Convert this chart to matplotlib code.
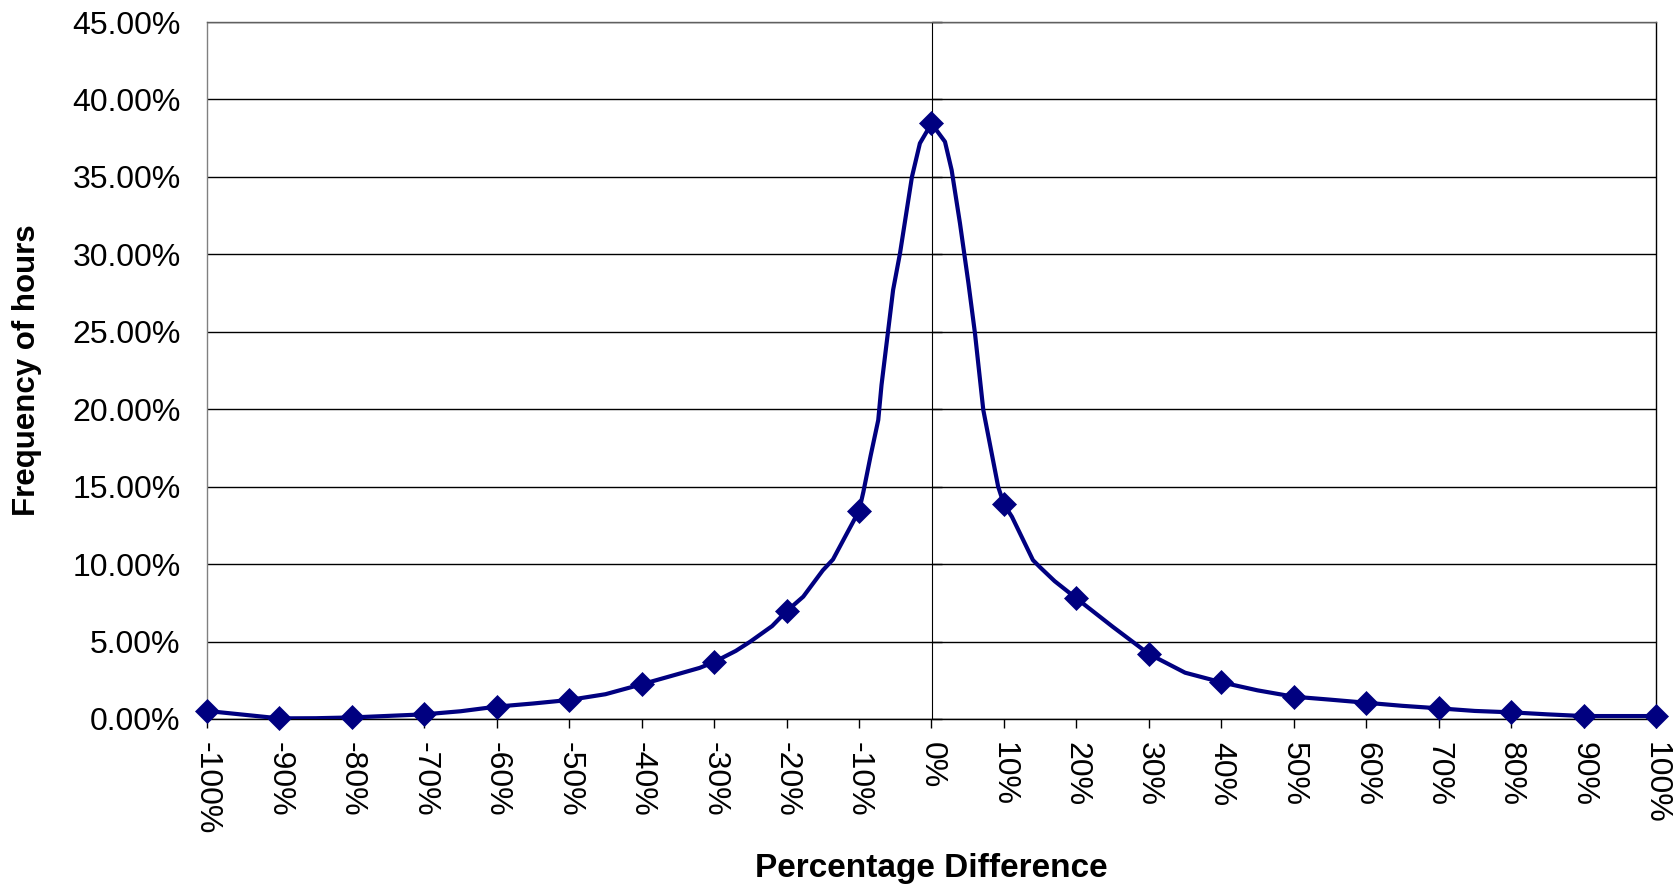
import numpy as np
import matplotlib.pyplot as plt
from matplotlib.ticker import FuncFormatter

# line trace (percentage difference, fraction of hours)
line_x = [-100, -90, -85, -80, -70, -65, -60, -55, -50, -45, -40, -35, -32, -30,
          -27, -25, -22, -20, -17.7, -15, -13.6, -12, -10, -9.4, -8.4, -7.35, -6.9,
          -5.3, -4.35, -2.7, -1.6, 0, 1.86, 2.78, 3.93, 5.1, 6.0, 7.15, 9.2, 10,
          11.1, 14, 15, 17, 20, 25, 30, 35, 40, 45, 50, 55, 60, 65, 70, 75, 80,
          85, 90, 100]
line_y = [0.52, 0.04, 0.05, 0.10, 0.30, 0.50, 0.80, 1.00, 1.23, 1.60, 2.24, 2.90, 3.30, 3.68,
          4.40, 5.00, 6.00, 6.96, 7.90, 9.60, 10.30, 11.70, 13.44, 14.67, 17.00, 19.30, 21.56,
          27.70, 30.06, 35.00, 37.17, 38.45, 37.27, 35.44, 32.00, 28.13, 24.90, 19.95, 15.00, 13.86,
          13.06, 10.26, 9.79, 8.90, 7.79, 5.96, 4.20, 2.99, 2.37, 1.85, 1.44, 1.25, 1.05, 0.85,
          0.69, 0.52, 0.43, 0.30, 0.19, 0.19]

# marker points every 10%
marker_x = list(range(-100, 101, 10))
marker_y = [0.52, 0.04, 0.10, 0.30, 0.80, 1.23, 2.24, 3.68, 6.96, 13.44, 38.45,
            13.86, 7.79, 4.20, 2.37, 1.44, 1.05, 0.69, 0.43, 0.19, 0.19]

x_ticks = list(range(-100, 101, 10))
y_ticks = np.arange(0, 46, 5)

plt.rcParams['font.family'] = ['Liberation Sans', 'DejaVu Sans']

fig = plt.figure(figsize=(16.74, 8.86), dpi=100)
ax = fig.add_axes([207 / 1674, 1 - 719 / 886, (1656 - 207) / 1674, (719 - 22) / 886])

navy = '#000080'
ax.plot(line_x, line_y, color=navy, lw=3.0, zorder=4)
ax.plot(marker_x, marker_y, ls='none', marker='D', ms=12, color=navy, mec=navy,
        mew=0.5, zorder=5, clip_on=False)

ax.set_xlim(-100, 100)
ax.set_ylim(0, 45)

ax.set_yticks(y_ticks)
ax.yaxis.set_major_formatter(FuncFormatter(lambda v, p: '%.2f%%' % v))
ax.tick_params(axis='y', length=0, pad=19, labelsize=23)
ax.set_xticks(x_ticks)
ax.set_xticklabels(['%d%%' % v for v in x_ticks], rotation=-90)
ax.tick_params(axis='x', direction='out', length=6.5, width=1, pad=10, labelsize=23)

ax.grid(axis='y', color='black', lw=1, zorder=1)
ax.set_axisbelow(True)

ax.spines['left'].set_color('#808080')
ax.spines['top'].set_color('#606060')
ax.spines['right'].set_color('black')
ax.spines['bottom'].set_color('black')
for s in ax.spines.values():
    s.set_linewidth(1)

# value axis crossing at 0%
sec = ax.secondary_yaxis(0.5)
sec.set_yticks(y_ticks)
sec.tick_params(axis='y', direction='out', length=7, width=1, labelleft=False, labelright=False)
sec.spines['left'].set_color('black')
sec.spines['left'].set_linewidth(1)

fig.text(27 / 1674, 1 - 370 / 886, 'Frequency of hours', rotation=90, ha='center', va='center',
         fontsize=22.5, fontweight='bold')
fig.text(931 / 1674, 1 - 868 / 886, 'Percentage Difference', ha='center', va='center',
         fontsize=24, fontweight='bold')

fig.savefig('out.png', dpi=100)
